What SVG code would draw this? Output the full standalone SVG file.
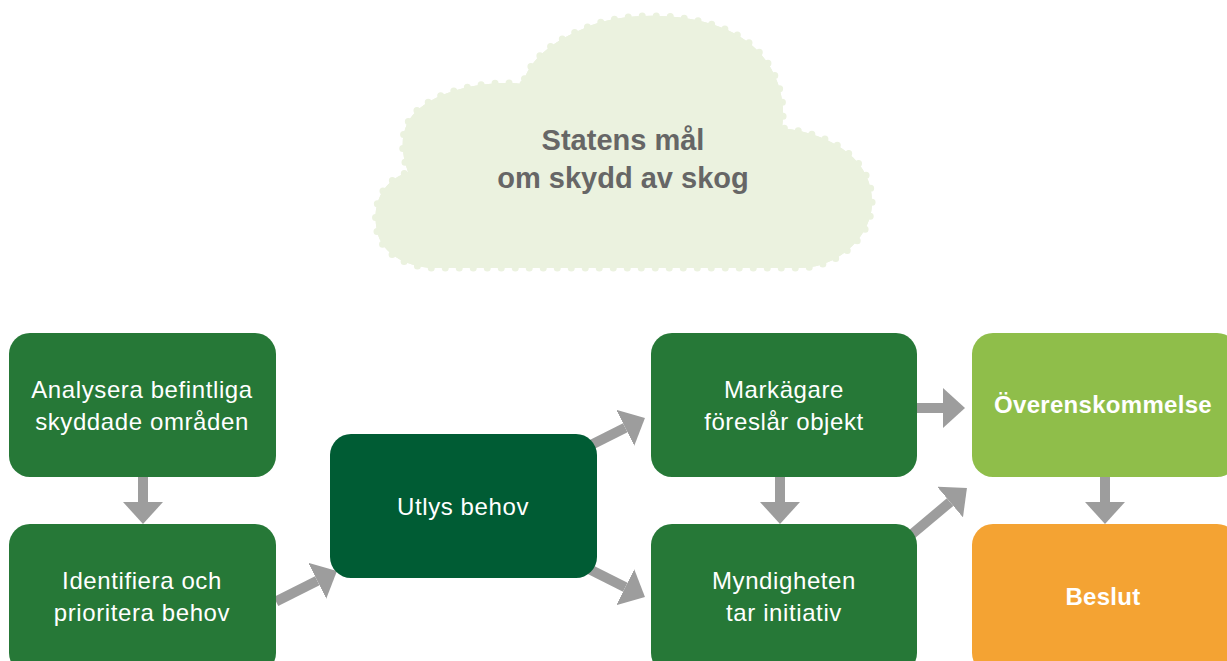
<svg xmlns="http://www.w3.org/2000/svg" width="1227" height="661" viewBox="0 0 1227 661">
<style>
.box{stroke:none}
.g{fill:#267837}
.dg{fill:#005c34}
.lg{fill:#8fbe4a}
.or{fill:#f4a333}
.t{font-family:"Liberation Sans",Arial,sans-serif;font-size:24px;letter-spacing:0.6px;fill:#ffffff;text-anchor:middle}
.tb{font-family:"Liberation Sans",Arial,sans-serif;font-size:24px;font-weight:bold;letter-spacing:0.3px;fill:#ffffff;text-anchor:middle}
.ct{font-family:"Liberation Sans",Arial,sans-serif;font-size:29px;font-weight:bold;fill:#666666;text-anchor:middle}
.arr{stroke:#9d9d9d;stroke-width:10;fill:none;marker-end:url(#head)}
</style>
<defs>
<marker id="head" markerUnits="userSpaceOnUse" markerWidth="23" markerHeight="40" refX="0" refY="20" orient="auto" viewBox="0 0 23 40">
<path d="M0 0 L22 20 L0 40 Z" fill="#9d9d9d"/>
</marker>
</defs>
<g id="cloud">
<path d="M523 84 C490 80 445 88 420 108 C402 122 398 145 408 172 C385 180 373 200 376 225 C378 250 400 265 430 268 L800 268 C835 268 870 240 872 205 C874 165 840 135 782 128 C788 90 770 45 720 27 C680 12 620 12 585 28 C550 42 528 62 523 84 Z" fill="#ebf2df" stroke="#ebf2df" stroke-width="7" stroke-linecap="round" stroke-dasharray="0 14"/>
<path d="M523 84 C490 80 445 88 420 108 C402 122 398 145 408 172 C385 180 373 200 376 225 C378 250 400 265 430 268 L800 268 C835 268 870 240 872 205 C874 165 840 135 782 128 C788 90 770 45 720 27 C680 12 620 12 585 28 C550 42 528 62 523 84 Z" fill="#ebf2df"/>
<text class="ct" x="623" y="150">Statens mål</text>
<text class="ct" x="623" y="188">om skydd av skog</text>
</g>
<g id="connectors">
<line class="arr" x1="143" y1="477" x2="143" y2="502"/>
<line class="arr" x1="780" y1="477" x2="780" y2="502"/>
<line class="arr" x1="1105" y1="477" x2="1105" y2="502"/>
<line class="arr" x1="917" y1="408" x2="943" y2="408"/>
<line class="arr" x1="276" y1="601.5" x2="317.3" y2="580.8"/>
<line class="arr" x1="590" y1="445.5" x2="625.3" y2="427.8"/>
<line class="arr" x1="590" y1="569.5" x2="625.3" y2="587.2"/>
<line class="arr" x1="905" y1="540" x2="950.1" y2="502.1"/>
</g>
<g id="n1"><rect class="box g" x="9" y="333" width="267" height="144" rx="21"/>
<text class="t" x="142" y="398">Analysera befintliga</text><text class="t" x="142" y="430">skyddade områden</text></g>
<g id="n2"><rect class="box g" x="9" y="524" width="267" height="150" rx="21"/>
<text class="t" x="142" y="589">Identifiera och</text><text class="t" x="142" y="621">prioritera behov</text></g>
<g id="n3"><rect class="box dg" x="330" y="434" width="267" height="144" rx="21"/>
<text class="t" x="463" y="515">Utlys behov</text></g>
<g id="n4"><rect class="box g" x="651" y="333" width="266" height="144" rx="21"/>
<text class="t" x="784" y="398">Markägare</text><text class="t" x="784" y="430">föreslår objekt</text></g>
<g id="n5"><rect class="box g" x="651" y="524" width="266" height="150" rx="21"/>
<text class="t" x="784" y="589">Myndigheten</text><text class="t" x="784" y="621">tar initiativ</text></g>
<g id="n6"><rect class="box lg" x="972" y="333" width="266" height="144" rx="21"/>
<text class="tb" x="1103" y="413">Överenskommelse</text></g>
<g id="n7"><rect class="box or" x="972" y="524" width="266" height="150" rx="21"/>
<text class="tb" x="1103" y="605">Beslut</text></g>
</svg>
